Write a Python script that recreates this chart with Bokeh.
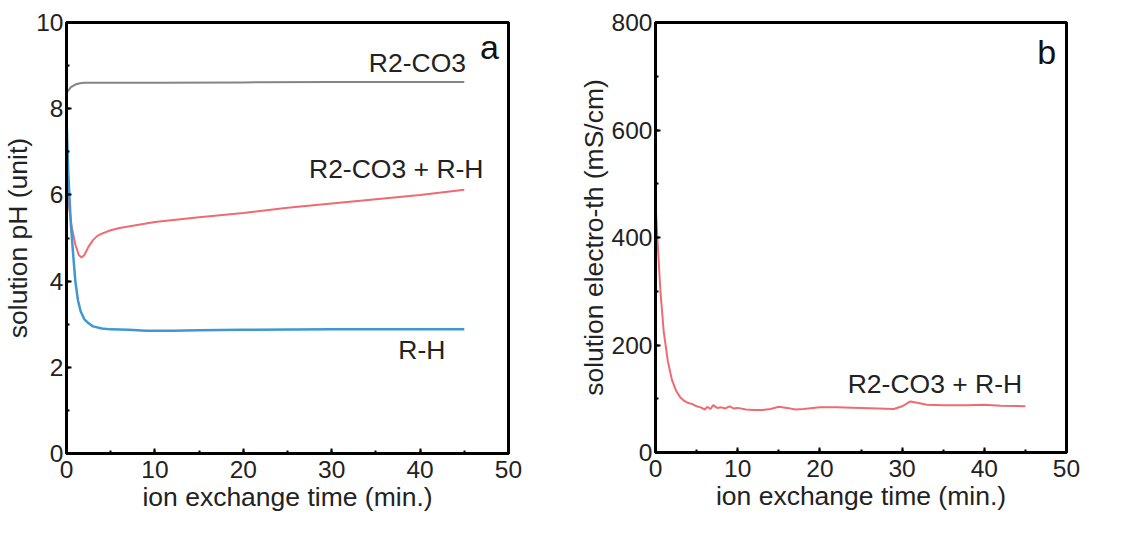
from bokeh.plotting import figure
from bokeh.layouts import row
from bokeh.models import Range1d, SingleIntervalTicker, Label
from bokeh.embed import file_html
from bokeh.resources import INLINE

# ---- panel a data (pH) ----
t_co3 = [0, 0.2, 0.5, 1.0, 1.5, 2.0, 3.0, 5.0, 10, 20, 30, 40, 45]
ph_co3 = [8.35, 8.42, 8.5, 8.56, 8.59, 8.6, 8.6, 8.6, 8.6, 8.61, 8.62, 8.62, 8.62]

t_rh = [0, 0.2, 0.5, 0.8, 1.0, 1.3, 1.6, 2.0, 2.5, 3.0, 4.0, 5.0, 7.0, 9.0, 12, 15, 20, 30, 40, 45]
ph_rh = [7.8, 6.5, 5.3, 4.5, 4.0, 3.55, 3.3, 3.12, 3.02, 2.95, 2.9, 2.88, 2.87, 2.85, 2.85, 2.86, 2.87, 2.88, 2.88, 2.88]

t_mix = [0, 0.1, 0.3, 0.6, 1.0, 1.4, 1.7, 2.0, 2.5, 3.0, 3.5, 4.0, 5.0, 6.0, 8.0, 10, 15, 20, 25, 30, 35, 40, 45]
ph_mix = [7.85, 6.0, 5.7, 5.25, 4.85, 4.6, 4.55, 4.6, 4.8, 4.95, 5.05, 5.1, 5.18, 5.23, 5.3, 5.37, 5.48, 5.58, 5.7, 5.8, 5.9, 6.0, 6.12]

# ---- panel b data (conductivity) ----
t_cond = [0, 0.3, 0.6, 1.0, 1.5, 2.0, 2.5, 3.0, 3.5, 4.0, 4.5, 5.0, 5.5, 6.0, 6.3, 6.7, 7.0, 7.5, 8.0,
          8.5, 9.0, 9.5, 10, 11, 12, 13, 14, 15, 16, 17, 18, 20, 22, 25, 27, 29, 30, 31, 32, 33, 35,
          38, 40, 42, 45]
cond = [466, 380, 300, 225, 170, 135, 115, 103, 96, 92, 90, 86, 84, 80, 85, 81, 88, 83, 84,
        82, 86, 82, 83, 80, 79, 79, 81, 85, 83, 80, 81, 84, 84, 83, 82, 81, 86, 95, 92, 89, 88,
        88, 89, 87, 86]

labels_a = ["R2-CO3", "R2-CO3 + R-H", "R-H"]
labels_a_x = [39.7, 37.3, 40.2]
labels_a_y = [9.05, 6.6, 2.4]
label_b = "R2-CO3 + R-H"
label_b_x = 34.0
label_b_y = 127
panel_tags = ["a", "b"]

FONT = "Liberation Sans"
TXT = "#222222"
GRAY = "#858585"
RED = "#ee6b73"
BLUE = "#3f98d2"


def style(p, yint, xlabel, ylabel):
    p.xaxis.ticker = SingleIntervalTicker(interval=10, num_minor_ticks=2)
    p.yaxis.ticker = SingleIntervalTicker(interval=yint, num_minor_ticks=2)
    p.grid.visible = False
    p.outline_line_color = "black"
    p.outline_line_width = 3
    p.outline_line_alpha = 1
    for ax in (p.xaxis, p.yaxis):
        ax.axis_line_color = "black"
        ax.axis_line_width = 3
        ax.major_tick_in = 5
        ax.major_tick_out = 0
        ax.minor_tick_in = 3
        ax.minor_tick_out = 0
        ax.major_tick_line_width = 2
        ax.minor_tick_line_width = 2
        ax.major_label_text_font = FONT
        ax.major_label_text_font_size = "24.5px"
        ax.major_label_text_color = TXT
        ax.axis_label_text_font = FONT
        ax.axis_label_text_font_size = "26.5px"
        ax.axis_label_text_font_style = "normal"
        ax.axis_label_text_color = TXT
    p.xaxis.axis_label = xlabel
    p.yaxis.axis_label = ylabel
    p.xaxis.major_label_standoff = 7
    p.xaxis.axis_label_standoff = 1
    p.yaxis.major_label_standoff = 3
    p.yaxis.axis_label_standoff = 0
    p.background_fill_color = "white"
    p.border_fill_color = "white"


p1 = figure(frame_width=442, frame_height=431, x_range=Range1d(0, 50), y_range=Range1d(0, 10),
            output_backend="svg", toolbar_location=None,
            min_border_left=59, min_border_top=20, min_border_right=59, min_border_bottom=69)
style(p1, 2, "ion exchange time (min.)", "solution pH (unit)")
p1.line(t_co3, ph_co3, line_color=GRAY, line_width=2)
p1.line(t_mix, ph_mix, line_color=RED, line_width=2)
p1.line(t_rh, ph_rh, line_color=BLUE, line_width=2.5)
for s, x, y in zip(labels_a, labels_a_x, labels_a_y):
    p1.add_layout(Label(x=x, y=y, text=s, text_align="center", text_baseline="middle",
                        text_font=FONT, text_font_size="26.5px", text_color=TXT))
p1.add_layout(Label(x=47.85, y=9.42, text=panel_tags[0], text_align="center", text_baseline="middle",
                    text_font=FONT, text_font_size="34px", text_color="#111111"))

p2 = figure(frame_width=411, frame_height=430, x_range=Range1d(0, 50), y_range=Range1d(0, 800),
            output_backend="svg", toolbar_location=None,
            min_border_left=88, min_border_top=22, min_border_right=39, min_border_bottom=68)
style(p2, 200, "ion exchange time (min.)", "solution electro-th (mS/cm)")
p2.line(t_cond, cond, line_color=RED, line_width=2)
p2.add_layout(Label(x=label_b_x, y=label_b_y, text=label_b, text_align="center", text_baseline="middle",
                    text_font=FONT, text_font_size="26.5px", text_color=TXT))
p2.add_layout(Label(x=47.6, y=746, text=panel_tags[1], text_align="center", text_baseline="middle",
                    text_font=FONT, text_font_size="34px", text_color="#111111"))

layout = row(p1, p2)
open("out.html", "w").write(file_html(layout, INLINE))
